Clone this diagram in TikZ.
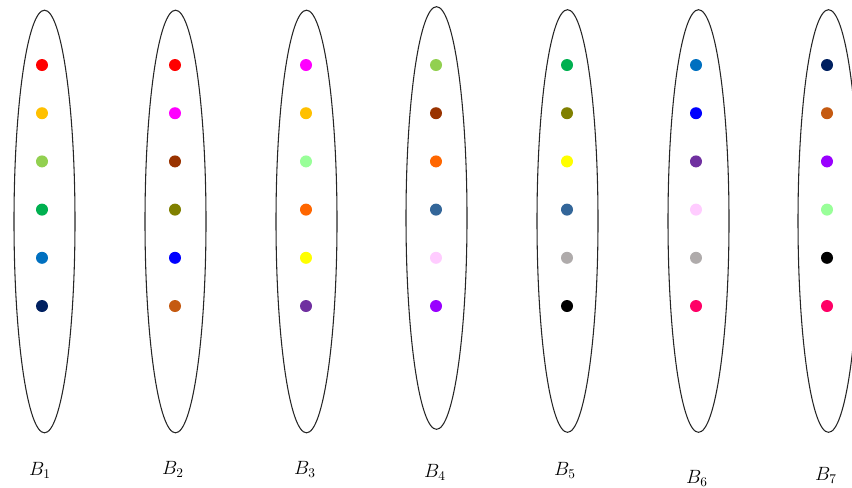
\documentclass[tikz,border=0pt]{standalone}
\definecolor{ORed}{RGB}{255,0,0}
\definecolor{OGold}{RGB}{255,192,0}
\definecolor{OLime}{RGB}{146,208,80}
\definecolor{OGreen}{RGB}{0,176,80}
\definecolor{OBlue}{RGB}{0,112,192}
\definecolor{ONavy}{RGB}{0,32,96}
\definecolor{OMagenta}{RGB}{255,0,255}
\definecolor{OBrown}{RGB}{153,51,0}
\definecolor{OOlive}{RGB}{128,128,0}
\definecolor{OPure}{RGB}{0,0,255}
\definecolor{ORust}{RGB}{197,90,17}
\definecolor{OMint}{RGB}{153,255,153}
\definecolor{OOrange}{RGB}{255,102,0}
\definecolor{OYellow}{RGB}{255,255,0}
\definecolor{OPurple}{RGB}{112,48,160}
\definecolor{OSteel}{RGB}{51,102,153}
\definecolor{OPink}{RGB}{255,204,255}
\definecolor{OViolet}{RGB}{153,0,255}
\definecolor{OGray}{RGB}{175,171,171}
\definecolor{OCrimson}{RGB}{255,0,102}
\usetikzlibrary{shapes.geometric}

\begin{document}
\begin{tikzpicture}[x=0.75pt, y=-0.75pt,
    bag/.style={ellipse, draw=black!85, line width=0.8pt, inner sep=0pt,
      minimum width=45.75pt, minimum height=317pt},
    elem/.style={circle, inner sep=0pt, minimum size=9pt},
    lab/.style={font=\fontsize{14}{16}\selectfont}]
  \clip (0,0) rectangle (852,487);
  \useasboundingbox (0,0) rectangle (852,487);

  % the seven bags
  \foreach \i/\x/\y/\lx/\ly in {1/44.5/221.5/40/470, 2/175.5/221.5/173/469,
      3/306.5/221.5/305/469, 4/436.5/218/435/472, 5/567.5/221/565/470,
      6/698.5/221/697/478, 7/828.5/221/826/475}
  {
    \node[bag] (bag\i) at (\x,\y) {};
    \node[lab] (lab\i) at (\lx,\ly) {$B_{\i}$};
  }

  % elements in each bag
  \foreach \i/\x/\cs in {
      1/42/{ORed,OGold,OLime,OGreen,OBlue,ONavy},
      2/175/{ORed,OMagenta,OBrown,OOlive,OPure,ORust},
      3/306/{OMagenta,OGold,OMint,OOrange,OYellow,OPurple},
      4/436/{OLime,OBrown,OOrange,OSteel,OPink,OViolet},
      5/567/{OGreen,OOlive,OYellow,OSteel,OGray,black},
      6/696/{OBlue,OPure,OPurple,OPink,OGray,OCrimson},
      7/827/{ONavy,ORust,OViolet,OMint,black,OCrimson}}
    \foreach \c [count=\k] in \cs
      \node[elem, fill=\c] (dot\i-\k) at (\x, 65+48.2*\k-48.2) {};
\end{tikzpicture}
\end{document}
